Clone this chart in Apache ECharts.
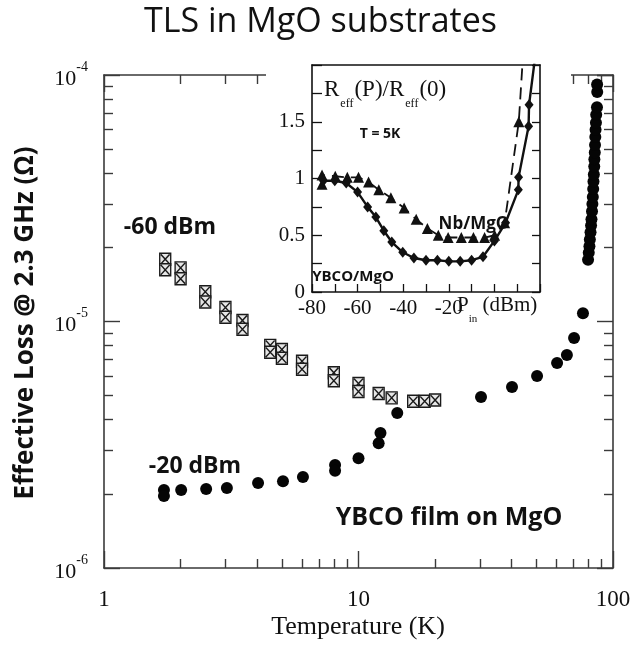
<!DOCTYPE html>
<html>
<head>
<meta charset="utf-8">
<script src="https://cdn.jsdelivr.net/npm/echarts@6.0.0/dist/echarts.min.js"></script>
<style>
  html, body { margin: 0; padding: 0; background: #fff; }
  #chart { width: 641px; height: 649px; }
</style>
</head>
<body>
<div id="chart"></div>
<script>
// main plot: -60 dBm (boxed X markers)
var tempLow = [1.74, 1.74, 2.0, 2.0, 2.5, 2.5, 3.0, 3.0, 3.5, 3.5, 4.5, 4.5, 5.0, 5.0, 6.0, 6.0, 8.0, 8.0, 10.0, 10.0, 12.0, 13.5, 16.4, 18.2, 20.0];
var lossLow = [17.9e-6, 16.2e-6, 16.5e-6, 14.9e-6, 13.2e-6, 12.0e-6, 11.4e-6, 10.4e-6, 10.1e-6, 9.3e-6, 8.0e-6, 7.5e-6, 7.7e-6, 7.1e-6, 6.9e-6, 6.4e-6, 6.2e-6, 5.75e-6, 5.6e-6, 5.2e-6, 5.1e-6, 4.9e-6, 4.75e-6, 4.75e-6, 4.8e-6];

// main plot: -20 dBm (filled circles)
var tempHigh = [1.72, 1.72, 2.01, 2.52, 3.04, 4.03, 5.05, 6.05, 8.09, 8.09, 10.0, 12.0, 12.2, 14.2, 30.3, 40.1, 50.3, 60.3, 65.9, 70.3, 76.2,
  79.8, 80.3, 80.8, 81.1, 81.6, 82.0, 82.3, 82.7, 83.0, 83.3, 83.6, 83.8, 84.1, 84.4, 84.5, 84.8, 85.0, 85.2, 85.4, 85.7, 85.9, 86.5, 86.7, 86.6];
var lossHigh = [2.07e-6, 1.96e-6, 2.07e-6, 2.09e-6, 2.11e-6, 2.21e-6, 2.25e-6, 2.34e-6, 2.62e-6, 2.48e-6, 2.79e-6, 3.21e-6, 3.53e-6, 4.25e-6, 4.94e-6, 5.42e-6, 6.01e-6, 6.79e-6, 7.31e-6, 8.57e-6, 10.8e-6,
  17.8e-6, 19.0e-6, 20.2e-6, 21.5e-6, 23.0e-6, 24.5e-6, 26.0e-6, 28.0e-6, 30.0e-6, 32.0e-6, 34.5e-6, 37.0e-6, 39.5e-6, 42.5e-6, 45.5e-6, 48.5e-6, 52.0e-6, 56.0e-6, 60.0e-6, 64.0e-6, 69.0e-6, 74.0e-6, 85.3e-6, 91.5e-6, 97.0e-6];

// inset: Nb/MgO (triangles) and YBCO/MgO (diamonds)
var nbPin = [-75.6, -75.6, -69.8, -64.5, -59.6, -55.2, -50.7, -45.4, -39.6, -34.3, -29.4, -24.6, -20.3, -14.5, -9.2, -4.3, 0.1, 4.5, 10.7, 12.6];
var nbRatio = [0.95, 1.03, 1.02, 1.01, 1.01, 0.97, 0.90, 0.83, 0.74, 0.64, 0.56, 0.50, 0.48, 0.48, 0.48, 0.48, 0.50, 0.61, 1.50, 2.10];
var ybcoPin = [-75, -70, -65, -60, -55.6, -52, -48.5, -45, -40.2, -35.3, -30, -25, -20, -15, -10, -5, 0, 4.9, 10.5, 10.6, 15, 15.2, 17.8];
var ybcoRatio = [0.98, 0.98, 0.96, 0.88, 0.75, 0.66, 0.54, 0.44, 0.35, 0.30, 0.28, 0.28, 0.27, 0.27, 0.28, 0.31, 0.45, 0.61, 0.90, 1.01, 1.46, 1.65, 2.06];

// axis ticks
var tempMinorTicks = [2, 3, 4, 5, 6, 7, 8, 9, 20, 30, 40, 50, 60, 70, 80, 90];
var lossMinorTicks = [2e-6, 3e-6, 4e-6, 5e-6, 6e-6, 7e-6, 8e-6, 9e-6, 2e-5, 3e-5, 4e-5, 5e-5, 6e-5, 7e-5, 8e-5, 9e-5];

var SERIF = '"Liberation Serif", "DejaVu Serif", serif';
var SANS = '"Open Sans", "Liberation Sans", sans-serif';
var INK = '#111';
var AXIS = '#3a3a3a';

function pairs(xs, ys) {
  return xs.map(function (x, i) { return [x, ys[i]]; });
}

var chart = echarts.init(document.getElementById('chart'), null, { renderer: 'canvas' });

function mainX(pos, len, custom, showLine, showLabel) {
  var ax = {
    gridIndex: 0, type: 'log', logBase: 10, min: 1, max: 100, position: pos,
    axisLine: { show: showLine, onZero: false, lineStyle: { color: AXIS, width: 1.6 } },
    axisTick: { show: true, inside: true, length: len, lineStyle: { color: AXIS, width: 1.4 } },
    axisLabel: { show: showLabel, margin: 20, fontFamily: SERIF, fontSize: 23, color: INK },
    splitLine: { show: false }
  };
  if (custom) ax.axisTick.customValues = custom;
  return ax;
}
function mainY(pos, len, custom, showLine, showLabel) {
  var ax = {
    gridIndex: 0, type: 'log', logBase: 10, min: 1e-6, max: 1e-4, position: pos,
    axisLine: { show: showLine, onZero: false, lineStyle: { color: AXIS, width: 1.6 } },
    axisTick: { show: true, inside: true, length: len, lineStyle: { color: AXIS, width: 1.4 } },
    axisLabel: {
      show: showLabel, margin: 16,
      formatter: function (v) { return '{b|10}{s|' + Math.round(Math.log10(v)) + '}'; },
      rich: {
        b: { fontFamily: SERIF, fontSize: 22, color: INK, lineHeight: 30, verticalAlign: 'bottom' },
        s: { fontFamily: SERIF, fontSize: 14, color: INK, lineHeight: 16, verticalAlign: 'top' }
      }
    },
    splitLine: { show: false }
  };
  if (custom) ax.axisTick.customValues = custom;
  return ax;
}

var option = {
  backgroundColor: '#fff',
  animation: false,
  title: {
    text: 'TLS in MgO substrates', left: 'center', top: 0,
    textStyle: { fontFamily: SANS, fontSize: 34, fontWeight: 'normal', color: INK }
  },
  grid: [
    { left: 104, right: 28, top: 75, bottom: 81 },
    { left: 312, top: 65, width: 228, height: 227 }
  ],
  xAxis: [
    mainX('bottom', 17, null, true, true),
    mainX('bottom', 9, tempMinorTicks, false, false),
    mainX('top', 17, null, true, false),
    mainX('top', 9, tempMinorTicks, false, false),
    {
      gridIndex: 1, type: 'value', min: -80, max: 20, interval: 10, position: 'bottom', z: 5,
      axisLine: { show: true, onZero: false, lineStyle: { color: INK, width: 1.6 } },
      axisTick: { show: true, inside: true, length: 8, lineStyle: { color: INK, width: 1.3 } },
      axisLabel: {
        margin: 6, fontFamily: SERIF, fontSize: 21, color: INK,
        formatter: function (v) { return (v < 0 && v % 20 === 0) ? String(v) : ''; }
      },
      splitLine: { show: false }
    },
    {
      gridIndex: 1, type: 'value', min: -80, max: 20, interval: 10, position: 'top', z: 5,
      axisLine: { show: true, onZero: false, lineStyle: { color: INK, width: 1.6 } },
      axisTick: { show: false }, axisLabel: { show: false }, splitLine: { show: false }
    }
  ],
  yAxis: [
    mainY('left', 16, null, true, true),
    mainY('left', 9, lossMinorTicks, false, false),
    mainY('right', 16, null, true, false),
    mainY('right', 9, lossMinorTicks, false, false),
    {
      gridIndex: 1, type: 'value', min: 0, max: 2, interval: 0.25, position: 'left', z: 5,
      axisLine: { show: true, onZero: false, lineStyle: { color: INK, width: 1.6 } },
      axisTick: { show: true, inside: true, length: 10, lineStyle: { color: INK, width: 1.3 } },
      axisLabel: {
        margin: 7, fontFamily: SERIF, fontSize: 21, color: INK,
        formatter: function (v) { return (v < 2 && Math.abs(v * 2 - Math.round(v * 2)) < 1e-9) ? String(v) : ''; }
      },
      splitLine: { show: false }
    },
    {
      gridIndex: 1, type: 'value', min: 0, max: 2, interval: 0.25, position: 'right', z: 5,
      axisLine: { show: true, onZero: false, lineStyle: { color: INK, width: 1.6 } },
      axisTick: { show: true, inside: true, length: 8, lineStyle: { color: INK, width: 1.3 } },
      axisLabel: { show: false }, splitLine: { show: false }
    }
  ],
  series: [
    {
      name: '-60 dBm', type: 'scatter', xAxisIndex: 0, yAxisIndex: 0,
      symbol: 'path://M0 0H10V10H0Z M1 1L9 9M9 1L1 9', symbolSize: [11, 12],
      itemStyle: { color: '#e6e6e6', borderColor: '#1a1a1a', borderWidth: 1.4, opacity: 1 },
      data: pairs(tempLow, lossLow)
    },
    {
      name: '-20 dBm', type: 'scatter', xAxisIndex: 0, yAxisIndex: 0,
      symbol: 'circle', symbolSize: 12,
      itemStyle: { color: '#050505', opacity: 1 },
      data: pairs(tempHigh, lossHigh)
    },
    {
      name: 'Nb/MgO', type: 'line', xAxisIndex: 4, yAxisIndex: 4, z: 6,
      symbol: 'triangle', symbolSize: 11, showAllSymbol: true,
      lineStyle: { color: INK, width: 1.8, type: [12, 7] },
      itemStyle: { color: INK, opacity: 1 },
      data: pairs(nbPin, nbRatio)
    },
    {
      name: 'YBCO/MgO', type: 'line', xAxisIndex: 4, yAxisIndex: 4, z: 7,
      symbol: 'diamond', symbolSize: [9, 11], showAllSymbol: true,
      lineStyle: { color: INK, width: 2.4 },
      itemStyle: { color: INK, opacity: 1 },
      data: pairs(ybcoPin, ybcoRatio)
    }
  ],
  graphic: [
    { type: 'rect', z: 1, shape: { x: 266, y: 50, width: 305, height: 280 }, style: { fill: '#fff' } },
    {
      type: 'text', z: 10, x: 26, y: 323, rotation: Math.PI / 2,
      style: { text: 'Effective Loss @ 2.3 GHz (\u03A9)', fontFamily: SANS, fontWeight: 'bold', fontSize: 26, fill: INK, align: 'center', verticalAlign: 'middle' }
    },
    {
      type: 'text', z: 10, x: 358, y: 627,
      style: { text: 'Temperature (K)', fontFamily: SERIF, fontSize: 26, fill: INK, align: 'center', verticalAlign: 'middle' }
    },
    {
      type: 'text', z: 10, x: 170, y: 227,
      style: { text: '-60 dBm', fontFamily: SANS, fontWeight: 'bold', fontSize: 23, fill: INK, align: 'center', verticalAlign: 'middle' }
    },
    {
      type: 'text', z: 10, x: 195, y: 466,
      style: { text: '-20 dBm', fontFamily: SANS, fontWeight: 'bold', fontSize: 23, fill: INK, align: 'center', verticalAlign: 'middle' }
    },
    {
      type: 'text', z: 10, x: 449, y: 518,
      style: { text: 'YBCO film on MgO', fontFamily: SANS, fontWeight: 'bold', fontSize: 25, fill: INK, align: 'center', verticalAlign: 'middle' }
    },
    {
      type: 'text', z: 10, x: 380, y: 134,
      style: { text: 'T = 5K', fontFamily: SANS, fontWeight: 'bold', fontSize: 14, fill: INK, align: 'center', verticalAlign: 'middle' }
    },
    {
      type: 'text', z: 10, x: 474, y: 224,
      style: { text: 'Nb/MgO', fontFamily: SANS, fontWeight: 'bold', fontSize: 17, fill: INK, align: 'center', verticalAlign: 'middle' }
    },
    {
      type: 'text', z: 10, x: 353, y: 277,
      style: { text: 'YBCO/MgO', fontFamily: SANS, fontWeight: 'bold', fontSize: 15, fill: INK, align: 'center', verticalAlign: 'middle' }
    },
    {
      type: 'text', z: 10, x: 324, y: 78,
      style: {
        text: '{r|R}{s|eff}{r|(P)/R}{s|eff}{r|(0)}',
        rich: {
          r: { fontFamily: SERIF, fontSize: 23, fill: INK, lineHeight: 24, verticalAlign: 'top' },
          s: { fontFamily: SERIF, fontSize: 12, fill: INK, lineHeight: 12, padding: [20, 1, 0, 1], verticalAlign: 'top' }
        }
      }
    },
    {
      type: 'text', z: 10, x: 457, y: 295,
      style: {
        text: '{r|P}{s|in}{r| (dBm)}',
        rich: {
          r: { fontFamily: SERIF, fontSize: 21, fill: INK, lineHeight: 22, verticalAlign: 'top' },
          s: { fontFamily: SERIF, fontSize: 11, fill: INK, lineHeight: 11, padding: [19, 0, 0, 0], verticalAlign: 'top' }
        }
      }
    }
  ]
};

chart.setOption(option);
</script>
</body>
</html>
